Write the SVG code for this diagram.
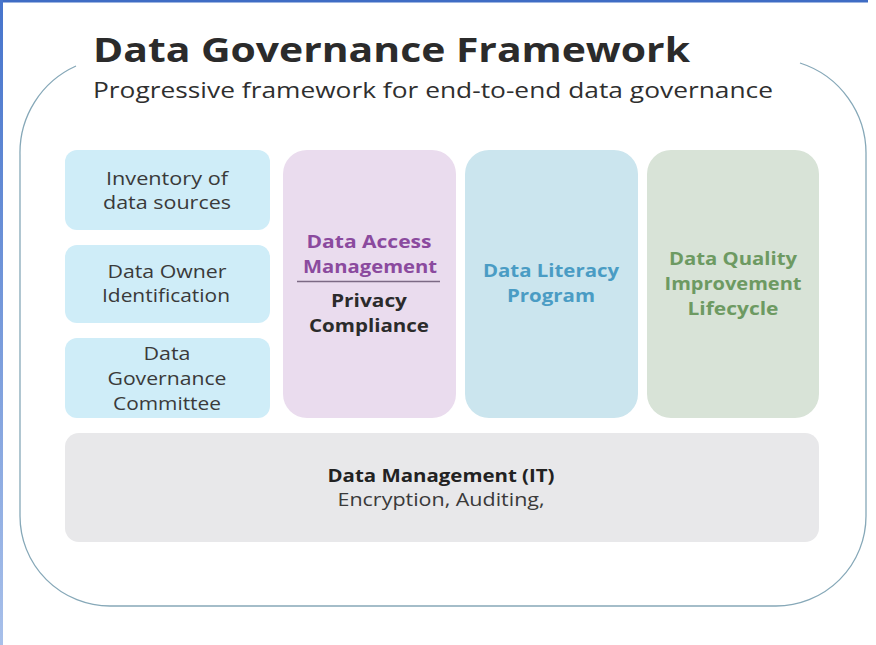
<svg xmlns="http://www.w3.org/2000/svg" width="876" height="645" viewBox="0 0 876 645">
<defs>
<linearGradient id="lb" x1="0" y1="0" x2="0" y2="1"><stop offset="0" stop-color="#4674cc"/><stop offset="1" stop-color="#a8c0ea"/></linearGradient>
<style>
.t{font-family:"Open Sans","Liberation Sans",sans-serif;text-anchor:middle}
.r{font-size:18px;fill:#3a3a3a}
.b{font-size:17.5px;font-weight:700}
</style>
</defs>
<rect width="876" height="645" fill="#ffffff"/>
<rect x="0" y="0" width="868" height="2.5" fill="#3f6cc4"/>
<rect x="0" y="0" width="3" height="645" fill="url(#lb)"/>
<g id="frame">
<path d="M76,66 A95,95 0 0 0 20,155 L20,516 A90,90 0 0 0 110,606 L776,606 A90,90 0 0 0 866,516 L866,155 A95,95 0 0 0 800,63" fill="none" stroke="#86a8b8" stroke-width="1.3"/>
</g>
<g id="title">
<text x="93" y="62" font-family="'Open Sans','Liberation Sans',sans-serif" font-size="34" font-weight="700" fill="#2b2b2b" textLength="597" lengthAdjust="spacingAndGlyphs">Data Governance Framework</text>
<text x="93" y="98" font-family="'Open Sans','Liberation Sans',sans-serif" font-size="22" fill="#2f2f2f" textLength="680" lengthAdjust="spacingAndGlyphs">Progressive framework for end-to-end data governance</text>
</g>
<g id="inventory">
<rect x="65" y="150" width="205" height="80" rx="12" fill="#cfedf8"/>
<text class="t r" x="167" y="185" textLength="122" lengthAdjust="spacingAndGlyphs">Inventory of</text>
<text class="t r" x="167" y="209" textLength="128" lengthAdjust="spacingAndGlyphs">data sources</text>
</g>
<g id="owner">
<rect x="65" y="245" width="205" height="78" rx="12" fill="#cfedf8"/>
<text class="t r" x="167" y="278" textLength="119" lengthAdjust="spacingAndGlyphs">Data Owner</text>
<text class="t r" x="166" y="302" textLength="128" lengthAdjust="spacingAndGlyphs">Identification</text>
</g>
<g id="committee">
<rect x="65" y="338" width="205" height="80" rx="12" fill="#cfedf8"/>
<text class="t r" x="167" y="360" textLength="47" lengthAdjust="spacingAndGlyphs">Data</text>
<text class="t r" x="167" y="385" textLength="119" lengthAdjust="spacingAndGlyphs">Governance</text>
<text class="t r" x="167" y="410" textLength="108" lengthAdjust="spacingAndGlyphs">Committee</text>
</g>
<g id="access">
<rect x="283" y="150" width="173" height="268" rx="24" fill="#eadcee"/>
<text class="t b" x="369" y="248" fill="#8b4a9e" textLength="125" lengthAdjust="spacingAndGlyphs">Data Access</text>
<text class="t b" x="370" y="273" fill="#8b4a9e" textLength="134" lengthAdjust="spacingAndGlyphs">Management</text>
<line x1="297" y1="281.5" x2="440" y2="281.5" stroke="#7c6a84" stroke-width="1.3"/>
<text class="t b" x="369" y="307" fill="#2b2b2b" textLength="76" lengthAdjust="spacingAndGlyphs">Privacy</text>
<text class="t b" x="369" y="332" fill="#2b2b2b" textLength="120" lengthAdjust="spacingAndGlyphs">Compliance</text>
</g>
<g id="literacy">
<rect x="465" y="150" width="173" height="268" rx="24" fill="#cbe5ee"/>
<text class="t b" x="551" y="277" fill="#4a9cc4" textLength="136" lengthAdjust="spacingAndGlyphs">Data Literacy</text>
<text class="t b" x="551" y="302" fill="#4a9cc4" textLength="88" lengthAdjust="spacingAndGlyphs">Program</text>
</g>
<g id="quality">
<rect x="647" y="150" width="172" height="268" rx="24" fill="#d8e3d7"/>
<text class="t b" x="733" y="265" fill="#6d9a62" textLength="128" lengthAdjust="spacingAndGlyphs">Data Quality</text>
<text class="t b" x="733" y="290" fill="#6d9a62" textLength="137" lengthAdjust="spacingAndGlyphs">Improvement</text>
<text class="t b" x="733" y="315" fill="#6d9a62" textLength="91" lengthAdjust="spacingAndGlyphs">Lifecycle</text>
</g>
<g id="management">
<rect x="65" y="433" width="754" height="109" rx="14" fill="#e8e8ea"/>
<text class="t b" x="441" y="482" fill="#222" textLength="227" lengthAdjust="spacingAndGlyphs">Data Management (IT)</text>
<text class="t r" x="441" y="506" textLength="207" lengthAdjust="spacingAndGlyphs">Encryption, Auditing,</text>
</g>
<g id="connectors"/>
</svg>
